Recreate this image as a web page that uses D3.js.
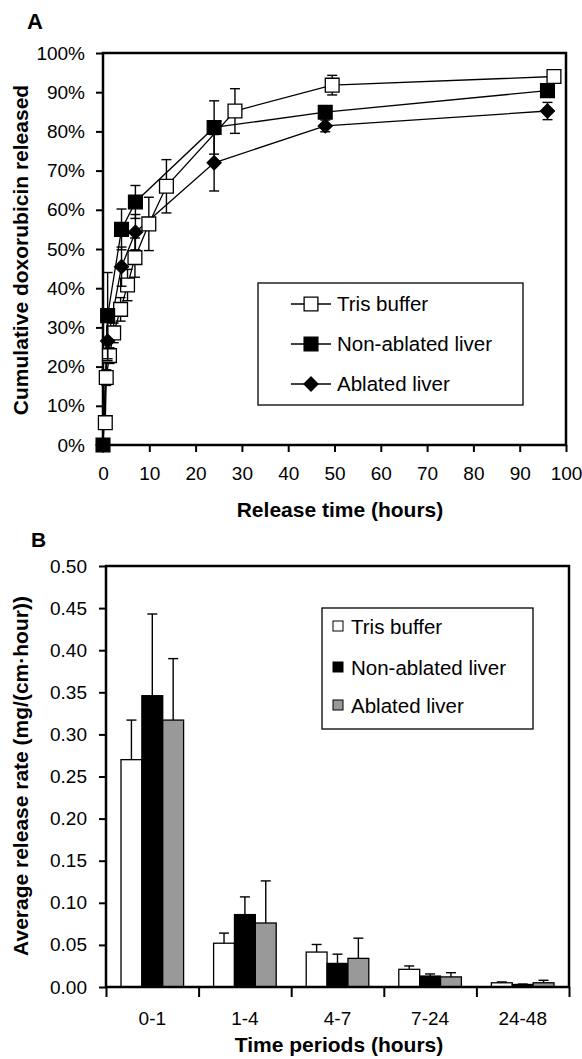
<!DOCTYPE html>
<html>
<head>
<meta charset="utf-8">
<script src="https://cdn.jsdelivr.net/npm/d3@7"></script>
<style>
  body { margin: 0; background: #fff; }
  svg text { font-family: "Liberation Sans", Arial, Helvetica, sans-serif; fill: #000; }
</style>
</head>
<body>
<svg id="chart" width="582" height="1059"></svg>
<script>
// ---- panel A: cumulative doxorubicin released (%) ----
const trisTime = [0.5, 0.7, 1.4, 2.3, 3.8, 5.3, 6.9, 9.9, 13.7, 28.5, 49.5, 97.4];
const trisRelease = [5.7, 17.2, 22.8, 28.6, 34.6, 40.8, 47.8, 56.4, 66, 85.2, 91.8, 94];
const trisErr = [1, 2, 2, 2.5, 3, 4, 5, 6.8, 6.8, 5.7, 2.5, 0.8];

const nonAblatedTime = [0, 1, 4, 7, 24, 48, 96];
const nonAblatedRelease = [0, 33, 55, 62, 81, 84.9, 90.4];
const nonAblatedErr = [0, 11, 5.2, 4.2, 6.8, 1.5, 1.2];

const ablatedTime = [0, 1, 4, 7, 24, 48, 96];
const ablatedRelease = [0, 26.5, 45.5, 54.3, 72, 81.4, 85.2];
const ablatedErr = [0, 5, 5, 4.5, 7.2, 1.5, 2.2];

const releaseTicks = [0, 10, 20, 30, 40, 50, 60, 70, 80, 90, 100];
const hourTicks = [0, 10, 20, 30, 40, 50, 60, 70, 80, 90, 100];

// ---- panel B: average release rate per period ----
const periods = ["0-1", "1-4", "4-7", "7-24", "24-48"];
const trisRate = [0.27, 0.052, 0.0415, 0.021, 0.005];
const trisRateErr = [0.047, 0.012, 0.009, 0.004, 0.001];
const nonAblatedRate = [0.346, 0.086, 0.028, 0.013, 0.003];
const nonAblatedRateErr = [0.097, 0.021, 0.011, 0.0025, 0.0005];
const ablatedRate = [0.317, 0.076, 0.034, 0.012, 0.005];
const ablatedRateErr = [0.073, 0.05, 0.024, 0.005, 0.003];
const rateTicks = [0, 0.05, 0.1, 0.15, 0.2, 0.25, 0.3, 0.35, 0.4, 0.45, 0.5];

const seriesNames = ["Tris buffer", "Non-ablated liver", "Ablated liver"];

const svg = d3.select("#chart");
const FONT = '"Liberation Sans", Arial, Helvetica, sans-serif';

function styleAxis(g, size) {
  g.attr("font-family", FONT).attr("font-size", size);
  g.select(".domain").remove();
  g.selectAll(".tick line").attr("stroke-width", 2);
}

// ================= PANEL A =================
const xA = d3.scaleLinear().domain([0, 100]).range([103, 566]);
const yA = d3.scaleLinear().domain([0, 100]).range([445, 53]);

svg.append("text").attr("x", 27).attr("y", 29)
  .attr("font-size", 22).attr("font-weight", "bold").text("A");

svg.append("g").attr("transform", `translate(${xA(0)},0)`)
  .call(d3.axisLeft(yA).tickValues(releaseTicks).tickFormat((d) => d + "%").tickSize(7).tickPadding(11))
  .call((g) => styleAxis(g, 19));

svg.append("g").attr("transform", `translate(0,${yA(0)})`)
  .call(d3.axisBottom(xA).tickValues(hourTicks).tickSize(7).tickPadding(15))
  .call((g) => styleAxis(g, 19));

svg.append("rect")
  .attr("x", xA(0)).attr("y", yA(100))
  .attr("width", xA(100) - xA(0)).attr("height", yA(0) - yA(100))
  .attr("fill", "none").attr("stroke", "#000").attr("stroke-width", 2.5);

const seriesA = [
  { name: seriesNames[0], t: trisTime, v: trisRelease, e: trisErr, type: d3.symbolSquare, size: 190, fill: "#fff" },
  { name: seriesNames[1], t: nonAblatedTime, v: nonAblatedRelease, e: nonAblatedErr, type: d3.symbolSquare, size: 190, fill: "#000" },
  { name: seriesNames[2], t: ablatedTime, v: ablatedRelease, e: ablatedErr, type: d3.symbolDiamond2, size: 125, fill: "#000" },
].map((s) => ({ ...s, points: s.t.map((t, i) => ({ t, v: s.v[i], e: s.e[i] })) }));

const lineA = d3.line().x((d) => xA(d.t)).y((d) => yA(d.v));

const gA = svg.append("g");
seriesA.forEach((s) => {
  gA.append("path").datum(s.points)
    .attr("d", lineA).attr("fill", "none").attr("stroke", "#000").attr("stroke-width", 1.3);
});

seriesA.forEach((s) => {
  const eb = gA.append("g").attr("stroke", "#000").attr("stroke-width", 1.4);
  s.points.filter((d) => d.e > 0).forEach((d) => {
    const x = xA(d.t);
    eb.append("line").attr("x1", x).attr("x2", x).attr("y1", yA(d.v - d.e)).attr("y2", yA(d.v + d.e));
    [d.v - d.e, d.v + d.e].forEach((v) => {
      eb.append("line").attr("x1", x - 5).attr("x2", x + 5).attr("y1", yA(v)).attr("y2", yA(v));
    });
  });
  gA.append("g").selectAll("path").data(s.points).join("path")
    .attr("transform", (d) => `translate(${xA(d.t)},${yA(d.v)})`)
    .attr("d", d3.symbol().type(s.type).size(s.size))
    .attr("fill", s.fill).attr("stroke", "#000").attr("stroke-width", 1.3);
});

// legend A
const legA = svg.append("g");
legA.append("rect").attr("x", 258).attr("y", 283).attr("width", 265).attr("height", 122)
  .attr("fill", "#fff").attr("stroke", "#000").attr("stroke-width", 1.3);
seriesA.forEach((s, i) => {
  const cy = 304 + i * 40;
  legA.append("line").attr("x1", 291).attr("x2", 331).attr("y1", cy).attr("y2", cy)
    .attr("stroke", "#000").attr("stroke-width", 1.3);
  legA.append("path").attr("transform", `translate(311,${cy})`)
    .attr("d", d3.symbol().type(s.type).size(s.size))
    .attr("fill", s.fill).attr("stroke", "#000").attr("stroke-width", 1.3);
  legA.append("text").attr("x", 337).attr("y", cy + 7).attr("font-size", 20.5).text(s.name);
});

svg.append("text")
  .attr("transform", "translate(28,250) rotate(-90)")
  .attr("text-anchor", "middle").attr("font-size", 21).attr("font-weight", "bold")
  .text("Cumulative doxorubicin released");

svg.append("text").attr("x", 340).attr("y", 517)
  .attr("text-anchor", "middle").attr("font-size", 21).attr("font-weight", "bold")
  .text("Release time (hours)");

// ================= PANEL B =================
const xB = d3.scaleBand().domain(periods).range([106, 569]).paddingInner(0.324).paddingOuter(0.162);
const xSub = d3.scaleBand().domain(seriesNames).range([0, xB.bandwidth()]);
const yB = d3.scaleLinear().domain([0, 0.5]).range([987, 566]);
const xEdges = d3.scaleLinear().domain([0, periods.length]).range([106, 569]);

svg.append("text").attr("x", 31).attr("y", 547)
  .attr("font-size", 21).attr("font-weight", "bold").text("B");

svg.append("g").attr("transform", `translate(${xB.range()[0]},0)`)
  .call(d3.axisLeft(yB).tickValues(rateTicks).tickFormat(d3.format(".2f")).tickSize(7).tickPadding(12))
  .call((g) => styleAxis(g, 19));

svg.append("g").attr("transform", `translate(0,${yB(0)})`)
  .call(d3.axisBottom(xEdges).ticks(periods.length).tickFormat("").tickSize(10))
  .call((g) => styleAxis(g, 19));

svg.append("g").attr("transform", `translate(0,${yB(0)})`)
  .call(d3.axisBottom(xB).tickSize(0).tickPadding(25))
  .call((g) => styleAxis(g, 19));

const seriesB = [
  { name: seriesNames[0], v: trisRate, e: trisRateErr, fill: "#fff" },
  { name: seriesNames[1], v: nonAblatedRate, e: nonAblatedRateErr, fill: "#000" },
  { name: seriesNames[2], v: ablatedRate, e: ablatedRateErr, fill: "#999" },
];

const gB = svg.append("g");
seriesB.forEach((s) => {
  const rows = periods.map((p, i) => ({ p, v: s.v[i], e: s.e[i] }));
  gB.append("g").selectAll("rect").data(rows).join("rect")
    .attr("x", (d) => xB(d.p) + xSub(s.name))
    .attr("y", (d) => yB(d.v))
    .attr("width", xSub.bandwidth())
    .attr("height", (d) => yB(0) - yB(d.v))
    .attr("fill", s.fill).attr("stroke", "#000").attr("stroke-width", 1.3);
  const eb = gB.append("g").attr("stroke", "#000").attr("stroke-width", 1.4);
  rows.forEach((d) => {
    const x = xB(d.p) + xSub(s.name) + xSub.bandwidth() / 2;
    eb.append("line").attr("x1", x).attr("x2", x).attr("y1", yB(d.v)).attr("y2", yB(d.v + d.e));
    eb.append("line").attr("x1", x - 5).attr("x2", x + 5).attr("y1", yB(d.v + d.e)).attr("y2", yB(d.v + d.e));
  });
});

svg.append("rect")
  .attr("x", 106).attr("y", yB(0.5))
  .attr("width", 569 - 106).attr("height", yB(0) - yB(0.5))
  .attr("fill", "none").attr("stroke", "#000").attr("stroke-width", 2.5);

// legend B
const legB = svg.append("g");
legB.append("rect").attr("x", 322).attr("y", 608).attr("width", 211).attr("height", 121)
  .attr("fill", "#fff").attr("stroke", "#000").attr("stroke-width", 1.3);
seriesB.forEach((s, i) => {
  const base = [634, 675, 713][i];
  legB.append("rect").attr("x", 333).attr("y", base - 13).attr("width", 10).attr("height", 10)
    .attr("fill", s.fill).attr("stroke", "#000").attr("stroke-width", 1);
  legB.append("text").attr("x", 351).attr("y", base).attr("font-size", 20.5).text(s.name);
});

svg.append("text")
  .attr("transform", "translate(28,776) rotate(-90)")
  .attr("text-anchor", "middle").attr("font-size", 21).attr("font-weight", "bold")
  .text("Average release rate (mg/(cm·hour))");

svg.append("text").attr("x", 339).attr("y", 1052)
  .attr("text-anchor", "middle").attr("font-size", 21).attr("font-weight", "bold")
  .text("Time periods (hours)");
</script>
</body>
</html>
